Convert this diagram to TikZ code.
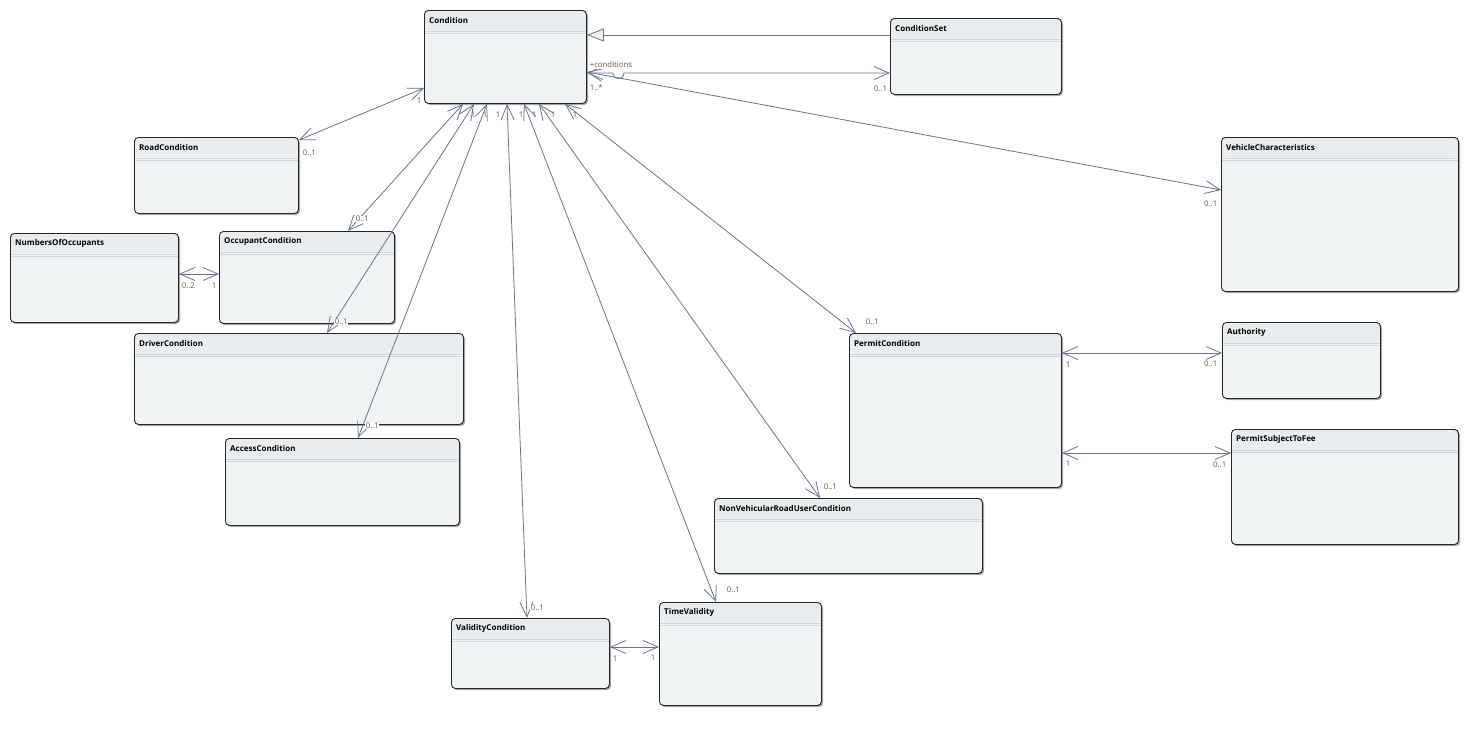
\documentclass[tikz,border=0pt]{standalone}
\usepackage{fontspec}
\setmainfont{Open Sans}
\usetikzlibrary{arrows.meta,calc,shadows}

\definecolor{edge}{HTML}{6B7390}
\definecolor{boxfill}{HTML}{F0F3F4}
\definecolor{boxtop}{HTML}{E8ECEE}
\definecolor{sepline}{HTML}{CDD6DE}
\definecolor{multc}{HTML}{70584A}
\definecolor{trifill}{HTML}{F8EDEC}

\tikzset{
  umlbox/.style={draw=black!85, line width=0.9pt, fill=boxfill, rounded corners=4pt,
    inner sep=0pt, anchor=north west,
    drop shadow={shadow xshift=1.6pt, shadow yshift=-1.6pt, opacity=0.35, fill=black},
    path picture={\shade[top color=boxtop, bottom color=boxfill]
      (path picture bounding box.north west) rectangle
      ($(path picture bounding box.north east)+(0,20)$);}},
  boxtitle/.style={font=\fontsize{8}{9}\selectfont\bfseries, anchor=west, inner sep=0pt},
  sepstyle/.style={draw=sepline, line width=0.7pt},
  assoc/.style={draw=edge, line width=0.8pt,
    {Straight Barb[length=15pt,width=13pt]}-{Straight Barb[length=15pt,width=13pt]}},
  genline/.style={draw=edge, line width=0.8pt,
    -{Triangle[length=17pt,width=13pt,fill=trifill]}},
  multl/.style={font=\fontsize{7.8}{9}\selectfont, text=multc, fill=white,
    inner sep=0.6pt, anchor=west},
  multr/.style={multl, anchor=east},
  multn/.style={multl, fill=none},
}

% class box: name, left, top, right, bottom, title
\newcommand\umlclass[6]{%
  \node[umlbox, minimum width={#4-#2}, minimum height={#5-#3}] (#1) at (#2,#3) {};
  \node[boxtitle] (#1-title) at ($(#1.north west)+(5,10.5)$) {#6};
  \draw[sepstyle] ($(#1.north west)+(1,21)$) -- ($(#1.north east)+(-1,21)$);
  \draw[sepstyle] ($(#1.north west)+(1,23)$) -- ($(#1.north east)+(-1,23)$);
}

\begin{document}
\begin{tikzpicture}[x=1pt,y=-1pt]
\useasboundingbox (0,0) rectangle (1468,734);

% classes
\umlclass{cond}{424}{10}{586}{103}{Condition}
\umlclass{cs}{890}{18}{1061}{94}{ConditionSet}
\umlclass{road}{134}{137}{298}{213}{RoadCondition}
\umlclass{vc}{1221}{137}{1458}{291}{VehicleCharacteristics}
\umlclass{noo}{10}{233}{178}{322}{NumbersOfOccupants}
\umlclass{occ}{219}{231}{394}{323}{OccupantCondition}
\umlclass{drv}{134}{333}{463}{424}{DriverCondition}
\umlclass{acc}{225}{438}{459}{525}{AccessCondition}
\umlclass{perm}{849}{333}{1061}{487}{PermitCondition}
\umlclass{auth}{1222}{322}{1380}{398}{Authority}
\umlclass{fee}{1231}{429}{1458}{544}{PermitSubjectToFee}
\umlclass{nvr}{714}{498}{982}{573}{NonVehicularRoadUserCondition}
\umlclass{tv}{659}{602}{821}{705}{TimeValidity}
\umlclass{val}{451}{618}{609}{688}{ValidityCondition}

% generalization ConditionSet -> Condition
\draw[genline] ($(cs.north west)+(0,17)$) -- ($(cond.north east)+(0,25)$);

% associations
\draw[assoc] ($(cond.north east)+(0,63)$) -- ++(26,0)
  .. controls +(0,7.5) and +(0,7.5) .. ++(11,0) -- ($(cs.north west)+(0,55)$);
\draw[assoc] ($(cond.north east)+(0,62)$) -- ($(vc.north west)+(0,53)$);
\draw[assoc] ($(cond.north west)+(0,78)$) -- ($(road.north east)+(0,3)$);
\draw[assoc] ($(cond.south west)+(39,0)$) -- ($(occ.north west)+(129,0)$);
\draw[assoc] ($(cond.south west)+(50,0)$) -- ($(drv.north west)+(193,0)$);
\draw[assoc] ($(cond.south west)+(63,0)$) -- ($(acc.north west)+(133,0)$);
\draw[assoc] ($(cond.south west)+(83,0)$) -- ($(val.north west)+(76,0)$);
\draw[assoc] ($(cond.south west)+(100,0)$) -- ($(tv.north west)+(57,0)$);
\draw[assoc] ($(cond.south west)+(115,0)$) -- ($(nvr.north west)+(106,0)$);
\draw[assoc] ($(cond.south west)+(141,0)$) -- ($(perm.north west)+(7,0)$);
\draw[assoc] ($(noo.north east)+(0,41)$) -- ($(occ.north west)+(0,43)$);
\draw[assoc] ($(perm.north east)+(0,20)$) -- ($(auth.north west)+(0,31)$);
\draw[assoc] ($(perm.north east)+(0,120)$) -- ($(fee.north west)+(0,24)$);
\draw[assoc] ($(val.north east)+(0,29)$) -- ($(tv.north west)+(0,45)$);

% role names and multiplicities
\node[multl] (l-role) at (589,65) {+conditions};
\node[multl] (l-cs1) at (589,88) {1..*};
\node[multr] (l-cs2) at (888,89) {0..1};
\node[multn] (l-rd1) at (416,101) {1};
\node[multl] (l-rd2) at (302,153) {0..1};
\node[multl] (l-oc2) at (355,219) {0..1};
\node[multl] (l-dr2) at (334,322) {0..1};
\node[multl] (l-ac2) at (365,426) {0..1};
\node[multn] (l-oc1) at (470,115) {1};
\node[multn] (l-dr1) at (482,115) {1};
\node[multn] (l-ac1) at (495,115) {1};
\node[multn] (l-va1) at (518,115) {1};
\node[multn] (l-tv1) at (531,115) {1};
\node[multn] (l-nv1) at (550,115) {1};
\node[multn] (l-pe1) at (572,115) {1};
\node[multl] (l-va2) at (530,608) {0..1};
\node[multl] (l-tv2) at (726,590) {0..1};
\node[multl] (l-nv2) at (823,487) {0..1};
\node[multl] (l-pe2) at (865,322) {0..1};
\node[multr] (l-vc2) at (1218,204) {0..1};
\node[multl] (l-no1) at (181,286) {0..2};
\node[multl] (l-no2) at (211,286) {1};
\node[multl] (l-au1) at (1065,365) {1};
\node[multr] (l-au2) at (1218,364) {0..1};
\node[multl] (l-fe1) at (1065,464) {1};
\node[multr] (l-fe2) at (1227,465) {0..1};
\node[multl] (l-vt1) at (612,659) {1};
\node[multl] (l-vt2) at (650,658) {1};
\end{tikzpicture}
\end{document}
